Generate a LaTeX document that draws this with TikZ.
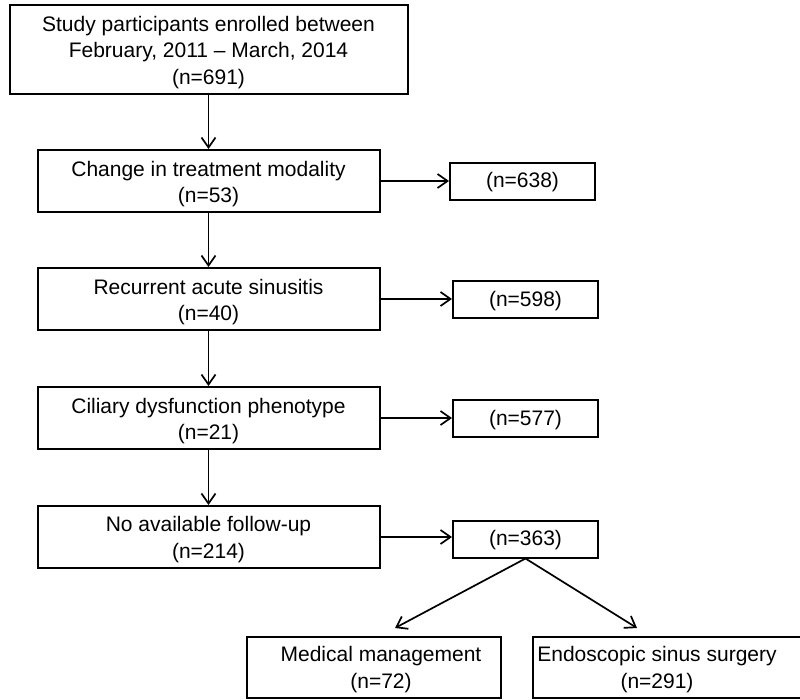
\documentclass[tikz,border=0pt]{standalone}
\usepackage{fontspec}
\setmainfont{Liberation Sans}
\usetikzlibrary{arrows.meta}
\begin{document}
\begin{tikzpicture}[x=1pt,y=-1pt,
  lbl/.style={inner sep=0pt, align=center, font=\fontsize{21}{26.5}\selectfont},
  box/.style={draw, line width=2pt, inner sep=0pt},
  mainbox/.style={box, minimum width=342pt, minimum height=62pt},
  sidebox/.style={box, minimum width=145pt, minimum height=37pt},
  arr/.style={line width=1.7pt, -{Straight Barb[length=10pt,width=14pt,line width=1.7pt]}}]
\path[use as bounding box] (0,0) rectangle (800,699);
% boxes
\node[box, minimum width=398pt, minimum height=89pt] (b1) at (208.5,49.5) {};
\node[mainbox] (b2) at (208.5,181) {};
\node[mainbox] (b3) at (208.5,299) {};
\node[mainbox] (b4) at (208.5,418) {};
\node[mainbox] (b5) at (208.5,537) {};
\node[sidebox] (r1) at (522.5,181) {};
\node[sidebox] (r2) at (525.5,299.5) {};
\node[sidebox] (r3) at (525.5,418.5) {};
\node[sidebox] (r4) at (525.5,539) {};
\node[box, minimum width=254pt, minimum height=61pt] (b6) at (374,667.5) {};
\node[box, minimum width=270pt, minimum height=61pt] (b7) at (668,667.5) {};
% labels
\node[lbl] (t1) at (208.5,52.5) {Study participants enrolled between\\February, 2011 -- March, 2014\\(n=691)};
\node[lbl] (t2) at (208.5,184) {Change in treatment modality\\(n=53)};
\node[lbl] (t3) at (208.5,302) {Recurrent acute sinusitis\\(n=40)};
\node[lbl] (t4) at (208.5,421) {Ciliary dysfunction phenotype\\(n=21)};
\node[lbl] (t5) at (208.5,539.5) {No available follow-up\\(n=214)};
\node[lbl] (s1) at (522.5,182.5) {(n=638)};
\node[lbl] (s2) at (525.5,301) {(n=598)};
\node[lbl] (s3) at (525.5,420) {(n=577)};
\node[lbl] (s4) at (525.5,540.5) {(n=363)};
\node[lbl] (t6) at (381,669.5) {Medical management\\(n=72)};
\node[lbl] (t7) at (657,669.5) {Endoscopic sinus surgery\\(n=291)};
% connectors
\coordinate (e6) at (395,628);
\coordinate (e7) at (637,628);
\draw[arr] (b1.south) -- (b2.north);
\draw[arr] (b2.south) -- (b3.north);
\draw[arr] (b3.south) -- (b4.north);
\draw[arr] (b4.south) -- (b5.north);
\draw[arr] (b2.east) -- (b2.east -| r1.west);
\draw[arr] (b3.east) -- (b3.east -| r2.west);
\draw[arr] (b4.east) -- (b4.east -| r3.west);
\draw[arr] (b5.east) -- (b5.east -| r4.west);
\draw[arr] (r4.south) -- (e6);
\draw[arr] (r4.south) -- (e7);
\end{tikzpicture}
\end{document}
